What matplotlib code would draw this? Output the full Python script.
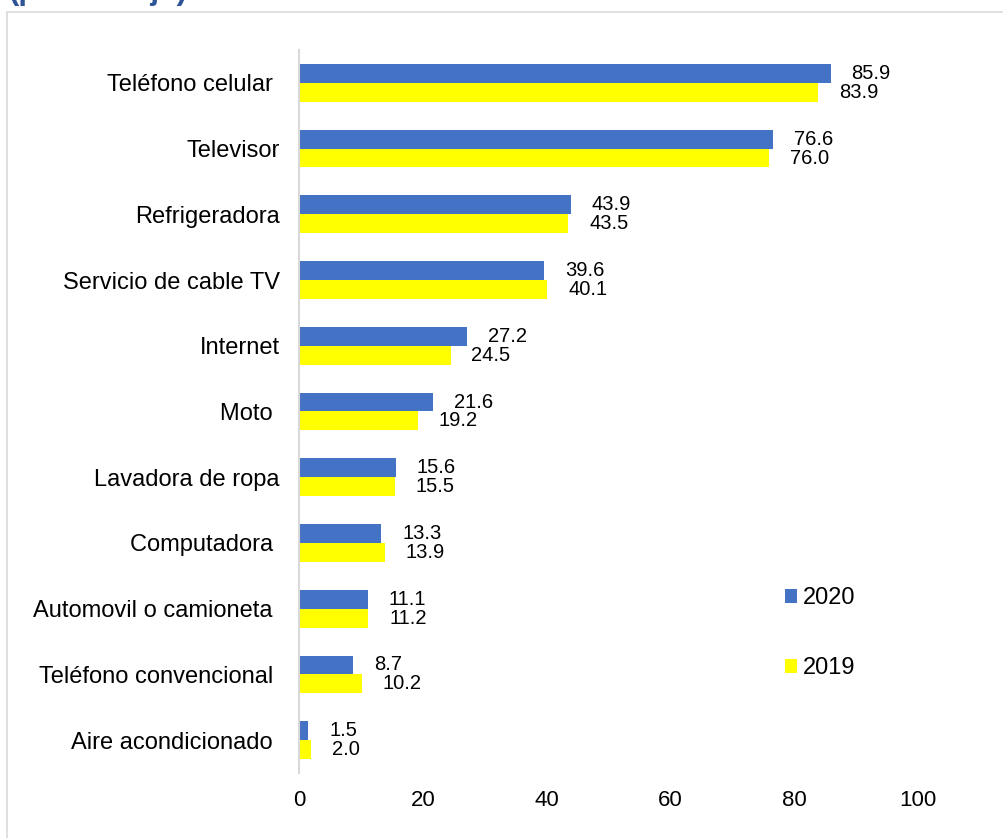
import matplotlib
matplotlib.use("Agg")
import matplotlib.pyplot as plt
from matplotlib.patches import Rectangle, Patch
import numpy as np

plt.rcParams['font.family'] = ['Liberation Sans', 'DejaVu Sans']

categories = ["Teléfono celular ", "Televisor", "Refrigeradora", "Servicio de cable TV",
              "Internet", "Moto ", "Lavadora de ropa", "Computadora ",
              "Automovil o camioneta ", "Teléfono convencional ", "Aire acondicionado "]
values_2020 = [85.9, 76.6, 43.9, 39.6, 27.2, 21.6, 15.6, 13.3, 11.1, 8.7, 1.5]
values_2019 = [83.9, 76.0, 43.5, 40.1, 24.5, 19.2, 15.5, 13.9, 11.2, 10.2, 2.0]
series_labels = ["2020", "2019"]
xticks = [0, 20, 40, 60, 80, 100]

W, H = 1004, 838
fig = plt.figure(figsize=(W / 100, H / 100), dpi=100)

# outer frame
fig.patches.append(Rectangle((7 / W, -0.1), 1.2, 1 - 12 / H + 0.1, transform=fig.transFigure,
                             fill=False, edgecolor="#D9D9D9", linewidth=1.2))
# cut-off title
fig.text(9 / W, 1 + 1 / H, "(porcentaje)", color="#2F5597", fontsize=22.5, fontweight="bold",
         ha="left", va="baseline")

ax = fig.add_axes([299 / W, 1 - 773 / H, (918 - 299) / W, (773 - 50) / H])

n = len(categories)
y = np.arange(n)
h = 0.287
c2020 = "#4472C4"
c2019 = "#FFFF00"
b1 = ax.barh(y - h / 2, values_2020, height=h, color=c2020)
b2 = ax.barh(y + h / 2, values_2019, height=h, color=c2019)

for bars, vals in ((b1, values_2020), (b2, values_2019)):
    for bar, v in zip(bars, vals):
        ax.annotate(f"{v:.1f}", (bar.get_width(), bar.get_y() + bar.get_height() / 2),
                    xytext=(15, 0), textcoords="offset points", ha="left", va="center",
                    fontsize=14.5, color="black")

ax.set_xlim(0, 100)
ax.set_ylim(n - 0.5, -0.5)
ax.set_yticks(y)
ax.set_yticklabels(categories, fontsize=17)
ax.set_xticks(xticks)
ax.set_xticklabels([str(t) for t in xticks], fontsize=16)
ax.tick_params(axis="y", length=0, pad=14)
ax.tick_params(axis="x", length=0, pad=12)
for s in ("top", "right", "bottom"):
    ax.spines[s].set_visible(False)
ax.spines["left"].set_color("#D9D9D9")
ax.spines["left"].set_linewidth(1.5)

handles = [Patch(facecolor=c2020), Patch(facecolor=c2019)]
leg = fig.legend(handles, series_labels, loc="upper left", bbox_to_anchor=(785 / W, 1 - 587 / H),
                 frameon=False, fontsize=17, handlelength=0.52, handleheight=0.52,
                 handletextpad=0.25, labelspacing=2.05, borderpad=0, borderaxespad=0)

fig.savefig("out.png", dpi=100)
